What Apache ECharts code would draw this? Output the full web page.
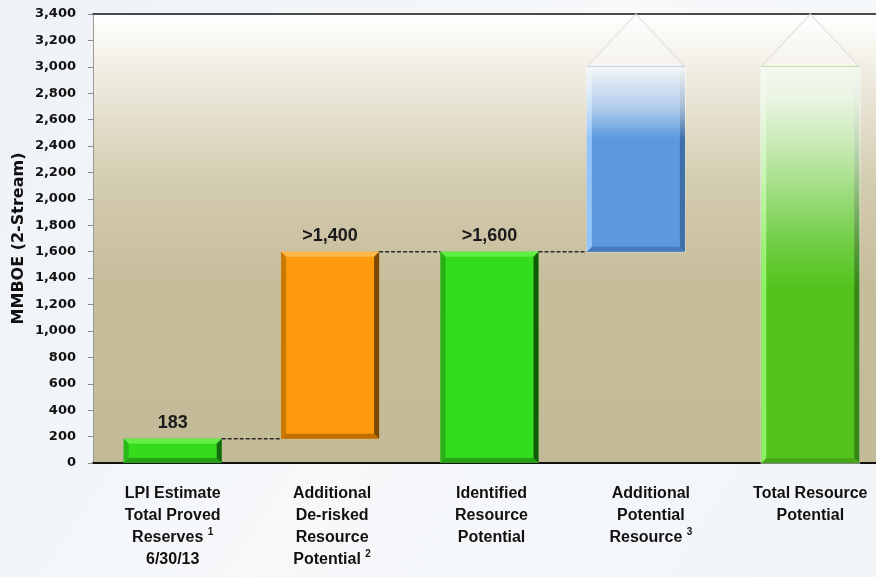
<!DOCTYPE html>
<html>
<head>
<meta charset="utf-8">
<script src="https://cdn.jsdelivr.net/npm/echarts@6/dist/echarts.min.js"></script>
<style>
  html, body { margin: 0; padding: 0; }
  #chart { width: 876px; height: 577px; }
</style>
</head>
<body>
<div id="chart"></div>
<script>
/* ================= 数据 ================= */
const categories = [
  "LPI Estimate\nTotal Proved\nReserves {sup|1}\n6/30/13",
  "Additional\nDe-risked\nResource\nPotential {sup|2}",
  "Identified\nResource\nPotential",
  "Additional\nPotential\nResource {sup|3}",
  "Total Resource\nPotential",
];
const lowValues = [0, 183, 0, 1600, 0];
const highValues = [183, 1600, 1600, 3000, 3000];
const arrowTips = [null, null, null, 3400, 3400];
const valueLabels = ["183", ">1,400", ">1,600", "", ""];
const connectorLevels = [183, 1600, 1600, null]; // 虚线连接 i -> i+1
const yMin = 0;
const yMax = 3400;
const yStep = 200;

/* ================= 样式 ================= */
const barStyles = [
  { shift: 0, fill: "#34dc1c", top: "#62ef48", left: "#2cb818", right: "#176a0c", bottom: "#25a014" },
  { shift: -2, fill: "#fe9a0c", top: "#ffb84a", left: "#c97a04", right: "#7a4800", bottom: "#c06e00" },
  { shift: -2, fill: "#33dc1c", top: "#5eee44", left: "#2ab016", right: "#135a08", bottom: "#26a014" },
  {
    shift: -15, fill: "#5b98de", top: "#5b98de", left: "#92c6fa", right: "#3f6fa8", bottom: "#4778b8",
    fade: [[0, 0.96], [0.03, 0.9], [0.23, 0.52], [0.39, 0]],
  },
  {
    shift: 0, fill: "#52c41c", top: "#52c41c", left: "#8ef064", right: "#37861a", bottom: "#46a818",
    fade: [[0, 0.97], [0.08, 0.9], [0.21, 0.68], [0.34, 0.4], [0.46, 0.15], [0.56, 0]],
  },
];
const BAR_RATIO = 0.615;

const chart = echarts.init(document.getElementById("chart"));

const barData = categories.map((c, i) => [i, lowValues[i], highValues[i]]);

function renderBar(params, api) {
  const i = api.value(0);
  const low = api.value(1);
  const high = api.value(2);
  const st = barStyles[i];
  const bandW = api.size([1, 0])[0];
  const w = bandW * BAR_RATIO;
  const pLow = api.coord([i, low]);
  const pHigh = api.coord([i, high]);
  const cx = pLow[0] + st.shift;
  const x0 = cx - w / 2;
  const x1 = cx + w / 2;
  const yTop = pHigh[1];
  const yBot = pLow[1];
  const h = yBot - yTop;
  const b = 5;
  const children = [];

  /* 箭头外框 */
  if (arrowTips[i] != null) {
    const yTip = api.coord([i, arrowTips[i]])[1];
    children.push({
      type: "polygon",
      shape: { points: [[x0, yBot], [x0, yTop], [cx, yTip], [x1, yTop], [x1, yBot]] },
      style: { fill: "rgba(255,255,255,0.25)", stroke: "rgba(222,222,222,0.75)", lineWidth: 1.5 },
    });
  }

  /* 柱体 + 斜面 */
  children.push(
    { type: "rect", shape: { x: x0, y: yTop, width: w, height: h }, style: { fill: st.fill } },
    { type: "polygon", shape: { points: [[x0, yTop], [x1, yTop], [x1 - b, yTop + b], [x0 + b, yTop + b]] }, style: { fill: st.top } },
    { type: "polygon", shape: { points: [[x0, yBot], [x1, yBot], [x1 - b, yBot - b], [x0 + b, yBot - b]] }, style: { fill: st.bottom } },
    { type: "polygon", shape: { points: [[x0, yTop], [x0 + b, yTop + b], [x0 + b, yBot - b], [x0, yBot]] }, style: { fill: st.left } },
    { type: "polygon", shape: { points: [[x1, yTop], [x1 - b, yTop + b], [x1 - b, yBot - b], [x1, yBot]] }, style: { fill: st.right } }
  );

  /* 顶部渐隐 */
  if (st.fade) {
    children.push({
      type: "rect",
      shape: { x: x0 - 1, y: yTop, width: w + 2, height: h },
      style: {
        fill: new echarts.graphic.LinearGradient(0, 0, 0, 1,
          st.fade.map(([o, a]) => ({ offset: o, color: `rgba(250,250,247,${a})` }))),
      },
    });
  }

  /* 虚线连接 */
  const level = connectorLevels[i];
  if (level != null && i < categories.length - 1) {
    const yl = api.coord([i, level])[1];
    const nextLeft = pLow[0] + bandW + barStyles[i + 1].shift - w / 2;
    children.push({
      type: "line",
      shape: { x1: x1, y1: yl, x2: nextLeft, y2: yl },
      style: { stroke: "#2a2a2a", lineWidth: 1.5, lineDash: [4, 2] },
    });
  }

  /* 数值标签 */
  if (valueLabels[i]) {
    children.push({
      type: "text",
      style: {
        text: valueLabels[i],
        x: cx,
        y: yTop - 16,
        align: "center",
        verticalAlign: "middle",
        font: "bold 18px 'Liberation Sans', Arial, sans-serif",
        fill: "#1a1a1a",
      },
    });
  }

  return { type: "group", children };
}

chart.setOption({
  backgroundColor: new echarts.graphic.LinearGradient(0, 0, 1, 1, [
    { offset: 0, color: "#eef2f6" },
    { offset: 0.5, color: "#f6f8fa" },
    { offset: 1, color: "#f2f5f8" },
  ]),
  grid: {
    left: 93,
    top: 14,
    width: 797,
    height: 449,
    outerBoundsMode: "none",
    show: true,
    borderWidth: 0,
    backgroundColor: new echarts.graphic.LinearGradient(0, 0, 0, 1, [
      { offset: 0, color: "#ffffff" },
      { offset: 0.12, color: "#f1eee4" },
      { offset: 0.38, color: "#d3cbae" },
      { offset: 0.6, color: "#c6bd9b" },
      { offset: 1, color: "#c3ba97" },
    ]),
  },
  xAxis: [
    {
      type: "category",
      data: categories,
      axisLine: { lineStyle: { color: "#111", width: 2 } },
      axisTick: { show: false },
      axisLabel: {
        interval: 0,
        margin: 20,
        color: "#111",
        fontFamily: "'Liberation Sans', Arial, sans-serif",
        fontWeight: "bold",
        fontSize: 16,
        lineHeight: 22,
        rich: {
          sup: { fontSize: 10, fontWeight: "bold", color: "#111", verticalAlign: "top", lineHeight: 16 },
        },
      },
    },
    {
      type: "category",
      position: "top",
      data: categories,
      axisLine: { lineStyle: { color: "#4a4a4a", width: 2 } },
      axisTick: { show: false },
      axisLabel: { show: false },
    },
  ],
  yAxis: {
    type: "value",
    min: yMin,
    max: yMax,
    interval: yStep,
    name: "MMBOE (2-Stream)",
    nameLocation: "middle",
    nameGap: 66,
    nameMoveOverlap: false,
    nameTextStyle: {
      fontFamily: "'DejaVu Sans', sans-serif",
      fontWeight: "bold",
      fontSize: 16,
      color: "#111",
    },
    axisLine: { show: true, lineStyle: { color: "#9a9a9a", width: 1 } },
    axisTick: { show: true, length: 5, lineStyle: { color: "#8a8a8a" } },
    splitLine: { show: false },
    axisLabel: {
      margin: 17,
      color: "#111",
      fontFamily: "'DejaVu Sans', sans-serif",
      fontWeight: "bold",
      fontSize: 13,
      formatter: (v) => v.toLocaleString("en-US"),
    },
  },
  series: [
    {
      type: "custom",
      renderItem: renderBar,
      encode: { x: 0, y: [1, 2] },
      data: barData,
      clip: false,
    },
  ],
});
</script>
</body>
</html>
